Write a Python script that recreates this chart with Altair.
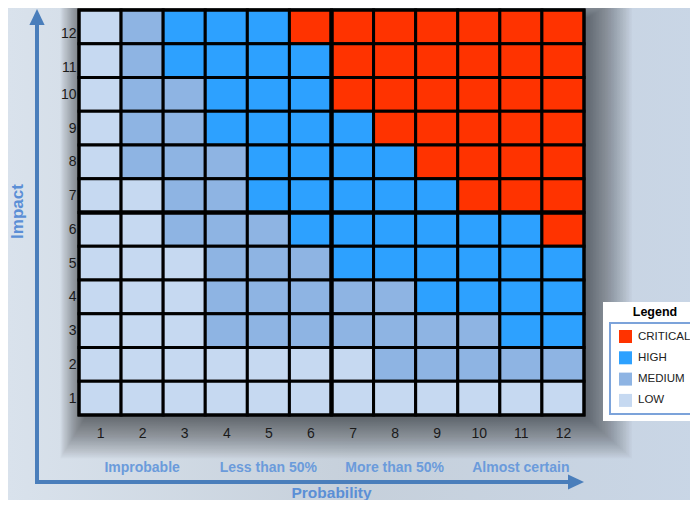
import altair as alt
import pandas as pd

# ---------------- data ----------------
probability = list(range(1, 13))
impact = list(range(1, 13))
levels = ["CRITICAL", "HIGH", "MEDIUM", "LOW"]
level_colors = ["#FF3300", "#2DA1FF", "#8EB4E3", "#C6D9F1"]
level_codes = {"L": "LOW", "M": "MEDIUM", "H": "HIGH", "C": "CRITICAL"}
# rows: impact 12 (top) down to 1; columns: probability 1..12
grid_rows = [
    "LMHHHCCCCCCC",
    "LMHHHHCCCCCC",
    "LMMHHHCCCCCC",
    "LMMHHHHCCCCC",
    "LMMMHHHHCCCC",
    "LLMMHHHHHCCC",
    "LLMMMHHHHHHC",
    "LLLMMMHHHHHH",
    "LLLMMMMMHHHH",
    "LLLMMMMMMMHH",
    "LLLLLLLMMMMM",
    "LLLLLLLLLLLL",
]
band_labels = ["Improbable", "Less than 50%", "More than 50%", "Almost certain"]
band_centers = [2, 5, 8, 11]
split_at = [6.5]

rows = []
for r, row in enumerate(grid_rows):
    imp = impact[11 - r]
    for c, ch in enumerate(row):
        p = probability[c]
        rows.append({"x0": p - 0.5, "x1": p + 0.5, "y0": imp - 0.5, "y1": imp + 0.5,
                     "level": level_codes[ch]})
cells_df = pd.DataFrame(rows)
bands_df = pd.DataFrame({"label": band_labels, "center": band_centers})
split_df = pd.DataFrame({"v": split_at})
one = pd.DataFrame({"a": [0]})

# ---------------- layout ----------------
W, H = 505, 405
PL, PT, PR, PB = 71, 2, 106, 85
FONT = "Liberation Sans"
AX_BLUE = "#4A7EBB"
TXT_BLUE = "#6B9BDB"

def vx(px):
    return px - 8 - PL

def vy(py):
    return py - 8 - PT

xs = alt.Scale(domain=[0.5, 12.5], nice=False, zero=False)
ys = alt.Scale(domain=[0.5, 12.5], nice=False, zero=False)

x_axis = alt.Axis(values=probability, format="d", domain=False, ticks=False, tickSize=0,
                  grid=False, labelPadding=11, labelFontSize=14, labelColor="#1a1a1a",
                  labelFont=FONT, labelFlush=False, labelOverlap=False, zindex=1,
                  title="Probability", titleX=252, titleY=82, titleAlign="center",
                  titleBaseline="alphabetic", titleFontSize=15.5, titleFontWeight="bold",
                  titleColor="#5B8FD6", titleFont=FONT)
y_axis = alt.Axis(values=impact, format="d", domain=False, ticks=False, tickSize=0,
                  grid=False, labelPadding=3, labelFontSize=14, labelColor="#1a1a1a",
                  labelFont=FONT, labelFlush=False, labelOverlap=False, zindex=1,
                  labelOffset={"condition": {"test": "datum.value >= 11", "value": 7}, "value": 0},
                  title="Impact", titleX=vx(17), titleY=201, titleAngle=270, titleAlign="center",
                  titleBaseline="middle", titleFontSize=17, titleFontWeight="bold",
                  titleColor="#5B8FD6", titleFont=FONT)

# background gradient
bg = alt.Chart(one).mark_rect(
    color=alt.LinearGradient(gradient="linear",
                             stops=[alt.GradientStop(color="#d9e2ec", offset=0),
                                    alt.GradientStop(color="#c6d0db", offset=0.5),
                                    alt.GradientStop(color="#c9d6e6", offset=1)],
                             x1=0, x2=1, y1=0, y2=0)
).encode(x=alt.value(-PL), x2=alt.value(W + PR + 10), y=alt.value(-PT), y2=alt.value(H + PB + 10))

# soft drop shadow behind the grid
shadow_layers = []
for i in range(1, 31):
    e = 1.5 * i
    shadow_layers.append(
        alt.Chart(one).mark_rect(color="black", opacity=0.02).encode(
            x=alt.value(6 - 0.55 * e), x2=alt.value(W + 3 + e),
            y=alt.value(8 - 0.6 * e), y2=alt.value(H + 3 + 0.9 * e))
    )

cells = alt.Chart(cells_df).mark_rect(stroke="black", strokeWidth=3).encode(
    x=alt.X("x0:Q", scale=xs, axis=x_axis),
    x2="x1:Q",
    y=alt.Y("y0:Q", scale=ys, axis=y_axis),
    y2="y1:Q",
    color=alt.Color("level:N", scale=alt.Scale(domain=levels, range=level_colors),
                    legend=alt.Legend(orient="none", legendX=vx(619), legendY=vy(330),
                                      title=None, padding=0, symbolType="square",
                                      symbolSize=169, symbolStrokeWidth=0,
                                      symbolOpacity=1, rowPadding=8.3, labelOffset=6,
                                      labelFontSize=11.5, labelFont=FONT,
                                      labelColor="#222222")),
)

vsplit = alt.Chart(split_df).mark_rule(color="black", strokeWidth=4.5).encode(
    x=alt.X("v:Q", scale=xs, axis=x_axis), y=alt.value(0), y2=alt.value(H))
hsplit = alt.Chart(split_df).mark_rule(color="black", strokeWidth=4.5).encode(
    y=alt.Y("v:Q", scale=ys, axis=y_axis), x=alt.value(0), x2=alt.value(W))
border = alt.Chart(one).mark_rect(fillOpacity=0, stroke="black", strokeWidth=3).encode(
    x=alt.value(0), x2=alt.value(W), y=alt.value(0), y2=alt.value(H))

# axis arrows
v_line = alt.Chart(one).mark_rule(color=AX_BLUE, strokeWidth=4).encode(
    x=alt.value(vx(37)), y=alt.value(vy(484)), y2=alt.value(vy(20)))
h_line = alt.Chart(one).mark_rule(color=AX_BLUE, strokeWidth=4).encode(
    y=alt.value(vy(482)), x=alt.value(vx(35)), x2=alt.value(vx(572)))
v_head = alt.Chart(one).mark_point(shape="M0,-1L0.95,1L-0.95,1Z", size=256, filled=True,
                                   color=AX_BLUE, opacity=1).encode(
    x=alt.value(vx(37)), y=alt.value(vy(17)))
h_head = alt.Chart(one).mark_point(shape="M1,0L-1,-0.95L-1,0.95Z", size=256, filled=True,
                                   color=AX_BLUE, opacity=1).encode(
    x=alt.value(vx(576)), y=alt.value(vy(482)))

bands = alt.Chart(bands_df).mark_text(fontSize=14, fontWeight="bold", color=TXT_BLUE,
                                      font=FONT, baseline="middle").encode(
    x=alt.X("center:Q", scale=xs, axis=x_axis), y=alt.value(vy(468)), text="label:N")

# legend frame
leg_outer = alt.Chart(one).mark_rect(color="white").encode(
    x=alt.value(vx(603)), x2=alt.value(vx(705)), y=alt.value(vy(302)), y2=alt.value(vy(421)))
leg_inner = alt.Chart(one).mark_rect(fill="white", stroke="#7CA3DA", strokeWidth=2).encode(
    x=alt.value(vx(610)), x2=alt.value(vx(705)), y=alt.value(vy(323)), y2=alt.value(vy(414)))
leg_title = alt.Chart(one).mark_text(text="Legend", fontSize=12.5, fontWeight="bold",
                                     font=FONT, color="black", baseline="middle").encode(
    x=alt.value(vx(655)), y=alt.value(vy(312)))

chart = alt.layer(bg, *shadow_layers, cells, vsplit, hsplit, border, v_line, h_line,
                  v_head, h_head, bands, leg_outer, leg_inner, leg_title).properties(
    width=W, height=H,
    padding={"left": PL, "top": PT, "right": PR, "bottom": PB},
    autosize=alt.AutoSizeParams(type="none"),
).configure_view(stroke=None).configure_axis(labelOverlap=False)

chart.save("out.html", embed_options={"renderer": "svg", "actions": False})
